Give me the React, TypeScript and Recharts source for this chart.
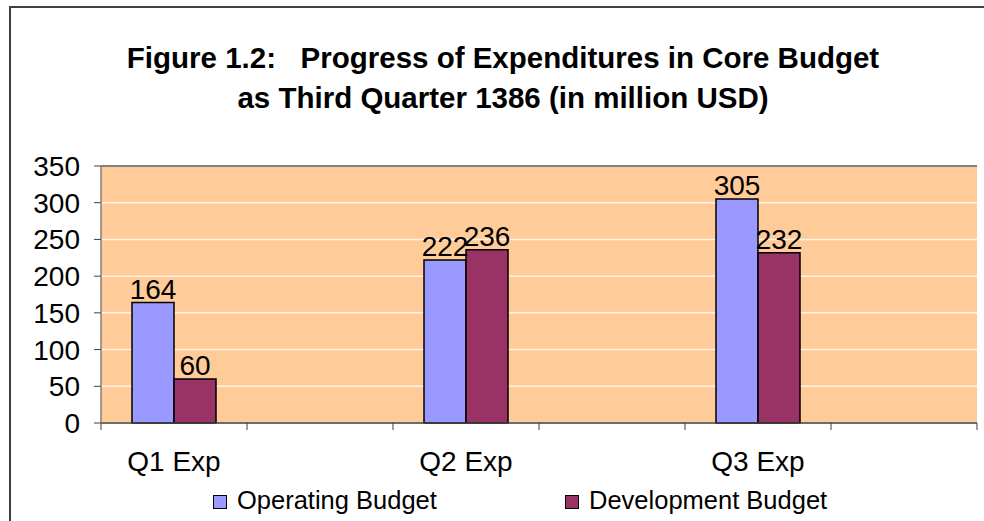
import React from 'react';
import {
  BarChart,
  Bar,
  XAxis,
  YAxis,
  CartesianGrid,
  LabelList,
  Legend,
  ReferenceLine,
} from 'recharts';

// Empty slots keep the wide spacing between the three quarters
const categories = ['Q1 Exp', '', 'Q2 Exp', '', 'Q3 Exp', ''];
const operatingBudget = [164, null, 222, null, 305, null];
const developmentBudget = [60, null, 236, null, 232, null];
const yTicks = [0, 50, 100, 150, 200, 250, 300, 350];

const seriesNames = ['Operating Budget', 'Development Budget'];
const seriesColors = ['#9999FF', '#993366'];

const WIDTH = 984;
const HEIGHT = 521;
const MARGIN = { top: 166, right: 7, left: 0, bottom: 6 };
const Y_AXIS_WIDTH = 101;
const X_AXIS_HEIGHT = 62;
const LEGEND_HEIGHT = 30;
const FONT = 'Arial, "Liberation Sans", sans-serif';
const TEXT_SIZE = 28;

const bandWidth =
  (WIDTH - MARGIN.left - MARGIN.right - Y_AXIS_WIDTH) / categories.length;

const data = categories.map((category, i) => ({
  category,
  operating: operatingBudget[i],
  development: developmentBudget[i],
}));

// Excel style: tick marks between categories, label in the middle
function CategoryTick(props: any) {
  const { x, y, payload, index, visibleTicksCount } = props;
  const half = bandWidth / 2;
  const isLast = index === visibleTicksCount - 1;
  return (
    <g>
      <line x1={x - half} x2={x - half} y1={y} y2={y + 7} stroke="#404040" />
      {isLast && (
        <line x1={x + half} x2={x + half} y1={y} y2={y + 7} stroke="#404040" />
      )}
      {payload.value && (
        <text x={x} y={y + 48} textAnchor="middle" fontSize={TEXT_SIZE} fill="#000" fontFamily={FONT}>
          {payload.value}
        </text>
      )}
    </g>
  );
}

function ChartLegend(props: any) {
  const { payload = [] } = props;
  const lefts = [213, 565];
  const items = [...payload].sort(
    (a: any, b: any) => seriesNames.indexOf(a.value) - seriesNames.indexOf(b.value),
  );
  return (
    <div style={{ position: 'relative', width: WIDTH, height: LEGEND_HEIGHT }}>
      {items.map((entry: any, i: number) => (
        <div
          key={entry.value}
          style={{
            position: 'absolute',
            left: lefts[i],
            top: 0,
            height: LEGEND_HEIGHT,
            display: 'flex',
            alignItems: 'center',
            fontFamily: FONT,
            fontSize: 25.5,
            color: '#000',
            whiteSpace: 'nowrap',
          }}
        >
          <span
            style={{
              width: 12,
              height: 12,
              background: entry.color,
              border: '1px solid #000',
              marginRight: 10,
              marginTop: 4,
            }}
          />
          {entry.value}
        </div>
      ))}
    </div>
  );
}

export default function App() {
  return (
    <div
      style={{
        position: 'absolute',
        left: 0,
        top: 0,
        width: WIDTH,
        height: HEIGHT,
        overflow: 'hidden',
        background: '#fff',
        fontFamily: FONT,
      }}
    >
      <div
        style={{
          position: 'absolute',
          left: 9,
          top: 6,
          width: WIDTH + 20,
          height: HEIGHT + 20,
          border: '2px solid #404040',
        }}
      />
      <div
        style={{
          position: 'absolute',
          left: 0,
          top: 38,
          width: 1006,
          textAlign: 'center',
          fontWeight: 'bold',
          fontSize: 29.5,
          lineHeight: '40px',
          color: '#000',
          whiteSpace: 'pre',
        }}
      >
        {'Figure 1.2:   Progress of Expenditures in Core Budget\nas Third Quarter 1386 (in million USD)'}
      </div>
      <div style={{ position: 'absolute', left: 0, top: 0 }}>
        <BarChart
          width={WIDTH}
          height={HEIGHT}
          data={data}
          margin={MARGIN}
          barCategoryGap={31}
          barGap={0}
        >
          <CartesianGrid
            vertical={false}
            fill="#FFCC99"
            fillOpacity={1}
            stroke="#FFF3E6"
            strokeWidth={1.5}
          />
          <XAxis
            dataKey="category"
            height={X_AXIS_HEIGHT}
            tickSize={0}
            tickMargin={0}
            tickLine={false}
            axisLine={{ stroke: '#404040', strokeWidth: 1.5 }}
            tick={<CategoryTick />}
            interval={0}
          />
          <YAxis
            width={Y_AXIS_WIDTH}
            domain={[0, 350]}
            ticks={yTicks}
            interval={0}
            tickSize={7}
            tickMargin={14}
            axisLine={{ stroke: '#808080', strokeWidth: 1.5 }}
            tickLine={{ stroke: '#404040' }}
            tick={{ fontSize: TEXT_SIZE, fill: '#000', fontFamily: FONT }}
          />
          <YAxis
            yAxisId="frame"
            orientation="right"
            width={0}
            domain={[0, 350]}
            tick={false}
            tickLine={false}
            axisLine={{ stroke: '#808080', strokeWidth: 2 }}
          />
          <ReferenceLine y={350} stroke="#808080" strokeWidth={2} />
          <Legend
            verticalAlign="bottom"
            height={LEGEND_HEIGHT}
            wrapperStyle={{ left: 0, width: WIDTH }}
            content={<ChartLegend />}
          />
          <Bar
            dataKey="operating"
            name={seriesNames[0]}
            fill={seriesColors[0]}
            stroke="#000"
            strokeWidth={1.5}
            isAnimationActive={false}
          >
            <LabelList
              dataKey="operating"
              position="top"
              offset={4}
              fontSize={TEXT_SIZE}
              fill="#000"
              fontFamily={FONT}
            />
          </Bar>
          <Bar
            dataKey="development"
            name={seriesNames[1]}
            fill={seriesColors[1]}
            stroke="#000"
            strokeWidth={1.5}
            isAnimationActive={false}
          >
            <LabelList
              dataKey="development"
              position="top"
              offset={4}
              fontSize={TEXT_SIZE}
              fill="#000"
              fontFamily={FONT}
            />
          </Bar>
        </BarChart>
      </div>
    </div>
  );
}
